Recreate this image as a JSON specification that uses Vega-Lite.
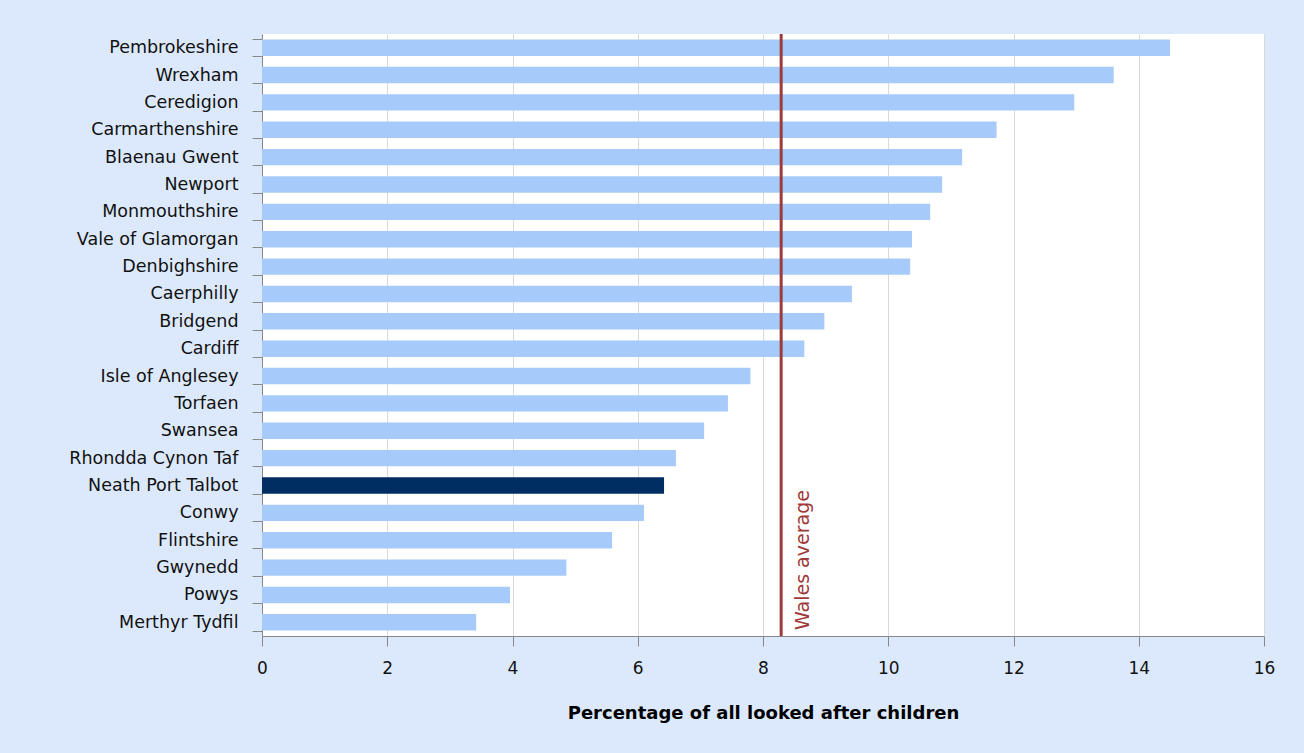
{
  "$schema": "https://vega.github.io/schema/vega-lite/v6.json",
  "width": 1002,
  "height": 602,
  "autosize": {"type": "none"},
  "padding": {"left": 262, "top": 34, "right": 40, "bottom": 117},
  "background": "#dce9fc",
  "config": {
    "view": {"fill": "white", "stroke": null},
    "font": "DejaVu Sans"
  },
  "datasets": {
    "bars": [
      {"authority": "Pembrokeshire", "pct": 14.5, "highlight": "no"},
      {"authority": "Wrexham", "pct": 13.6, "highlight": "no"},
      {"authority": "Ceredigion", "pct": 12.97, "highlight": "no"},
      {"authority": "Carmarthenshire", "pct": 11.73, "highlight": "no"},
      {"authority": "Blaenau Gwent", "pct": 11.18, "highlight": "no"},
      {"authority": "Newport", "pct": 10.86, "highlight": "no"},
      {"authority": "Monmouthshire", "pct": 10.67, "highlight": "no"},
      {"authority": "Vale of Glamorgan", "pct": 10.38, "highlight": "no"},
      {"authority": "Denbighshire", "pct": 10.35, "highlight": "no"},
      {"authority": "Caerphilly", "pct": 9.42, "highlight": "no"},
      {"authority": "Bridgend", "pct": 8.98, "highlight": "no"},
      {"authority": "Cardiff", "pct": 8.66, "highlight": "no"},
      {"authority": "Isle of Anglesey", "pct": 7.8, "highlight": "no"},
      {"authority": "Torfaen", "pct": 7.44, "highlight": "no"},
      {"authority": "Swansea", "pct": 7.06, "highlight": "no"},
      {"authority": "Rhondda Cynon Taf", "pct": 6.61, "highlight": "no"},
      {"authority": "Neath Port Talbot", "pct": 6.42, "highlight": "yes"},
      {"authority": "Conwy", "pct": 6.1, "highlight": "no"},
      {"authority": "Flintshire", "pct": 5.59, "highlight": "no"},
      {"authority": "Gwynedd", "pct": 4.86, "highlight": "no"},
      {"authority": "Powys", "pct": 3.96, "highlight": "no"},
      {"authority": "Merthyr Tydfil", "pct": 3.42, "highlight": "no"}
    ],
    "avg": [{"label": "Wales average", "pct": 8.29}]
  },
  "layer": [
    {
      "data": {"name": "bars"},
      "mark": {"type": "bar"},
      "encoding": {
        "y": {
          "field": "authority",
          "type": "nominal",
          "sort": null,
          "scale": {"paddingInner": 0.4, "paddingOuter": 0.2},
          "axis": {
            "title": null,
            "tickBand": "extent",
            "tickSize": 10,
            "tickColor": "#888888",
            "domainColor": "#888888",
            "labelPadding": 14,
            "labelFontSize": 17.5,
            "labelColor": "#111111",
            "grid": false
          }
        },
        "x": {
          "field": "pct",
          "type": "quantitative",
          "scale": {"domain": [0, 16], "nice": false},
          "axis": {
            "title": "Percentage of all looked after children",
            "titleFontSize": 18,
            "titleFontWeight": "bold",
            "titleColor": "#000000",
            "titlePadding": 28,
            "values": [0, 2, 4, 6, 8, 10, 12, 14, 16],
            "format": "d",
            "tickSize": 10,
            "tickColor": "#888888",
            "domainColor": "#888888",
            "labelPadding": 14,
            "labelFlush": false,
            "labelFontSize": 17,
            "labelColor": "#111111",
            "grid": true,
            "gridColor": "#d9d9d9"
          }
        },
        "color": {
          "field": "highlight",
          "type": "nominal",
          "scale": {"domain": ["no", "yes"], "range": ["#a6cbfa", "#002d62"]},
          "legend": null
        }
      }
    },
    {
      "data": {"name": "avg"},
      "mark": {"type": "rule", "color": "#9e3a3a", "strokeWidth": 3},
      "encoding": {
        "x": {"field": "pct", "type": "quantitative"}
      }
    },
    {
      "data": {"name": "avg"},
      "mark": {
        "type": "text",
        "angle": 270,
        "align": "left",
        "baseline": "top",
        "dx": 6,
        "dy": 13,
        "fontSize": 19,
        "color": "#9e3a3a"
      },
      "encoding": {
        "x": {"field": "pct", "type": "quantitative"},
        "y": {"value": "height"},
        "text": {"field": "label"}
      }
    }
  ]
}
